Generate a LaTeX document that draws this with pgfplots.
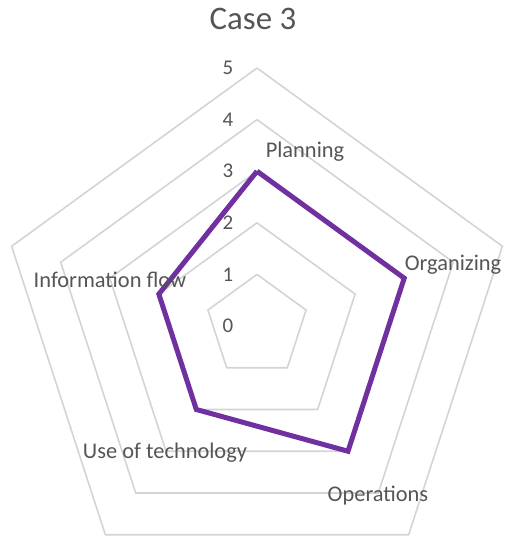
\documentclass[border=0pt]{standalone}
\usepackage{fontspec}
\setmainfont{Carlito}
\usepackage{pgfplots}
\pgfplotsset{compat=1.18}
\usepgfplotslibrary{polar}
\definecolor{gridgray}{HTML}{D4D4D4}
\definecolor{txtgray}{HTML}{555555}
\definecolor{linepurple}{HTML}{7030A0}
\begin{document}
\begin{tikzpicture}
% picture frame, centre of the radar at (0,0)
\path[use as bounding box] (-257bp,-220bp) rectangle (255bp,326bp);
\begin{polaraxis}[
    at={(0,0)}, anchor=center,
    width=516bp, height=516bp, scale only axis,
    ymin=0, ymax=5,
    hide axis, clip=false,
    every axis plot/.append style={no markers},
  ]
  % pentagon grid
  \addplot[gridgray, line width=1.6bp] coordinates {(90,1)(18,1)(306,1)(234,1)(162,1)(90,1)};
  \addplot[gridgray, line width=1.6bp] coordinates {(90,2)(18,2)(306,2)(234,2)(162,2)(90,2)};
  \addplot[gridgray, line width=1.6bp] coordinates {(90,3)(18,3)(306,3)(234,3)(162,3)(90,3)};
  \addplot[gridgray, line width=1.6bp] coordinates {(90,4)(18,4)(306,4)(234,4)(162,4)(90,4)};
  \addplot[gridgray, line width=1.6bp] coordinates {(90,5)(18,5)(306,5)(234,5)(162,5)(90,5)};
  % Case 3: Planning, Organizing, Operations, Use of technology, Information flow
  \addplot[linepurple, line width=5bp, line join=miter] coordinates {(90,3)(18,3)(306,3)(234,2)(162,2)(90,3)};
  % value labels
  \node[txtgray, font=\fontsize{21}{25}\selectfont, xshift=-29bp] at (axis cs:90,0) {0};
  \node[txtgray, font=\fontsize{21}{25}\selectfont, xshift=-29bp] at (axis cs:90,1) {1};
  \node[txtgray, font=\fontsize{21}{25}\selectfont, xshift=-29bp] at (axis cs:90,2) {2};
  \node[txtgray, font=\fontsize{21}{25}\selectfont, xshift=-29bp] at (axis cs:90,3) {3};
  \node[txtgray, font=\fontsize{21}{25}\selectfont, xshift=-29bp] at (axis cs:90,4) {4};
  \node[txtgray, font=\fontsize{21}{25}\selectfont, xshift=-29bp] at (axis cs:90,5) {5};
\end{polaraxis}
% category labels
\begin{scope}[every node/.style={txtgray, font=\fontsize{22.5}{27}\selectfont, inner sep=0pt}]
  \node at (48bp,174bp) {Planning};
  \node at (196bp,61bp) {Organizing};
  \node at (121bp,-170bp) {Operations};
  \node at (-92bp,-127bp) {Use of technology};
  \node at (-147bp,46bp) {Information flow};
\end{scope}
\node[txtgray, font=\fontsize{33}{40}\selectfont, inner sep=0pt] at (-4bp,307bp) {Case 3};
\end{tikzpicture}
\end{document}
